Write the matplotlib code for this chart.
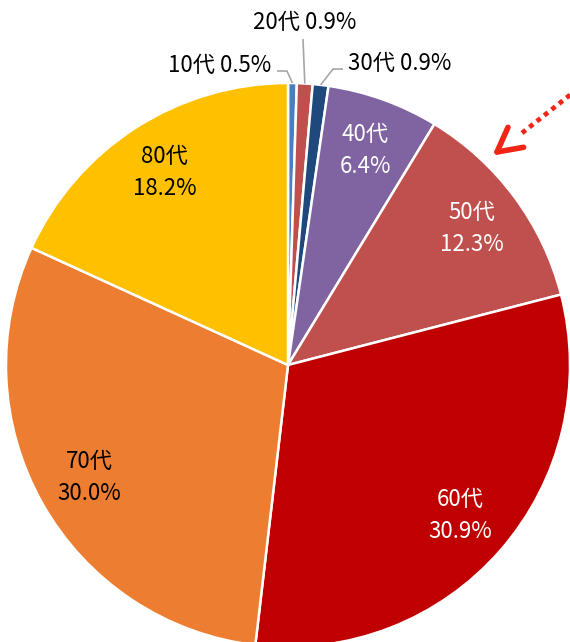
import numpy as np
import matplotlib
matplotlib.use("Agg")
import matplotlib.pyplot as plt

plt.rcParams['font.family'] = ['Noto Sans CJK JP', 'DejaVu Sans']

# ---- data ----
ages = ['10代', '20代', '30代', '40代', '50代', '60代', '70代', '80代']
shares = [0.5, 0.9, 0.9, 6.4, 12.3, 30.9, 30.0, 18.2]
colors = ['#4A7EC0', '#C0504D', '#1F497D', '#8064A2', '#C0504D', '#C00000', '#ED7D31', '#FFC000']
text_colors = ['black', 'black', 'black', 'white', 'white', 'white', 'black', 'black']
outside = [True, True, True, False, False, False, False, False]

W, H = 570, 642
fig = plt.figure(figsize=(W / 100, H / 100), dpi=100)
ax = fig.add_axes([0, 0, 1, 1])

cx, cy, R = 288, H - 365, 282
wedges, _ = ax.pie(shares, colors=colors, startangle=90, counterclock=False,
                   center=(cx, cy), radius=R, normalize=True,
                   wedgeprops=dict(edgecolor='white', linewidth=1.8))
ax.set_xlim(0, W)
ax.set_ylim(0, H)
ax.set_aspect('equal')
ax.axis('off')

fs = 16
# inside labels
for w, a, s, tc, out in zip(wedges, ages, shares, text_colors, outside):
    if out:
        continue
    mid = np.deg2rad((w.theta1 + w.theta2) / 2)
    r = 0.81 * R
    x, y = cx + r * np.cos(mid), cy + r * np.sin(mid)
    ax.text(x, y, f"{a}\n{s:.1f}%", ha='center', va='center', color=tc,
            fontsize=fs, linespacing=1.5)

# outside labels with leader lines (layout in pixels)
def P(x, y):
    return (x, H - y)

out_layout = {
    0: dict(text=P(271, 65), ha='right', path=[P(277, 71), P(287, 71)]),
    1: dict(text=P(305, 22), ha='center', path=[P(303, 39)]),
    2: dict(text=P(348, 63), ha='left', path=[P(343, 69), P(333, 69)]),
}
for i, lay in out_layout.items():
    w = wedges[i]
    mid = np.deg2rad((w.theta1 + w.theta2) / 2)
    ex, ey = cx + R * 1.0 * np.cos(mid), cy + R * 1.0 * np.sin(mid)
    pts = lay['path'] + [(ex, ey)]
    ax.plot([p[0] for p in pts], [p[1] for p in pts], color='#A6A6A6', lw=1.2,
            solid_capstyle='butt', zorder=3)
    ax.text(lay['text'][0], lay['text'][1], f"{ages[i]} {shares[i]:.1f}%",
            ha=lay['ha'], va='center', color='black', fontsize=fs)

# red dotted arrow pointing at 50代
tip = np.array(P(497, 152))
tail = np.array(P(575, 91))
start = np.array(P(522, 133))
ax.plot([start[0], tail[0]], [start[1], tail[1]], color='#F02515', lw=3.4,
        linestyle=(0, (1.0, 1.0)), dash_capstyle='butt', solid_capstyle='butt',
        clip_on=False)
d = (tail - tip) / np.linalg.norm(tail - tip)
L = 27
for ang in (np.deg2rad(28), np.deg2rad(-28)):
    rot = np.array([[np.cos(ang), -np.sin(ang)], [np.sin(ang), np.cos(ang)]])
    arm = tip + L * rot @ d
    ax.plot([tip[0], arm[0]], [tip[1], arm[1]], color='#F02515', lw=4.0,
            solid_capstyle='round')

fig.savefig('out.png', dpi=100)
